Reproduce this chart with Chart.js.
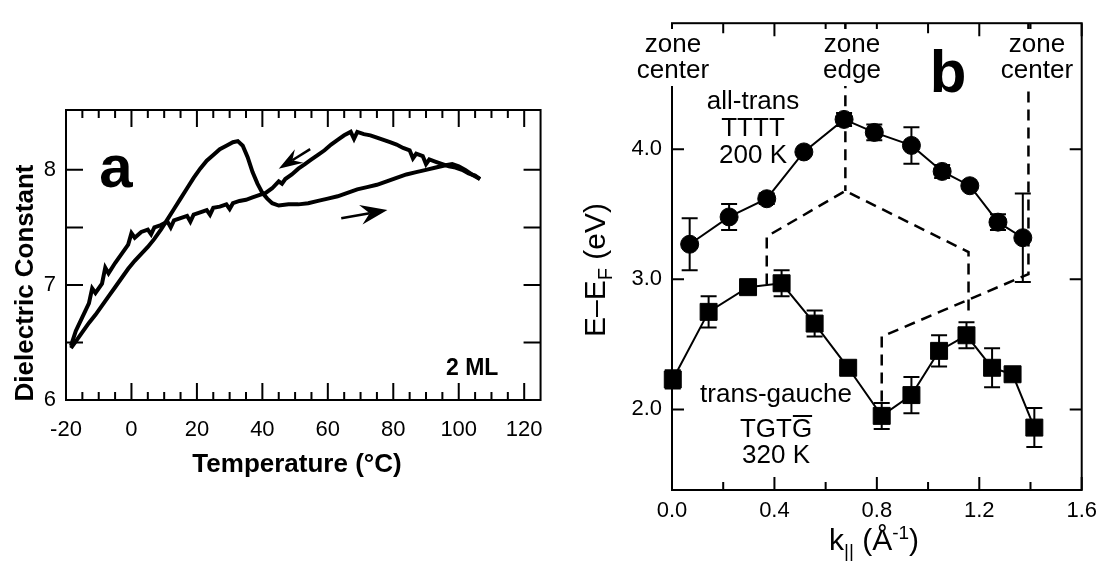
<!DOCTYPE html>
<html>
<head>
<meta charset="utf-8">
<script src="https://cdn.jsdelivr.net/npm/chart.js@4.4.1/dist/chart.umd.min.js"></script>
<style>
  html, body { margin: 0; padding: 0; background: #fff; }
  body { width: 1105px; height: 563px; position: relative; overflow: hidden; }
  #chartA { position: absolute; left: 0; top: 0; }
  #chartB { position: absolute; left: 560px; top: 0; }
</style>
</head>
<body>
<canvas id="chartA" width="560" height="563"></canvas>
<canvas id="chartB" width="545" height="563"></canvas>
<script>
// ===== Panel a data: dielectric constant vs temperature (2 ML) =====
const heatT = [-18.5, -17, -15, -13, -11, -9, -7, -5, -3, -1, 1, 3, 5, 7, 9, 11, 13, 15, 17, 19,
  21, 23, 25, 27, 29, 31, 32.5, 34, 35.5, 37, 38.5, 40, 41.5, 43, 45, 48, 51, 54, 57, 60,
  63, 66, 69, 72, 75, 78, 81, 84, 87, 90, 93, 96, 98, 100, 102, 104, 106.5];
const heatE = [6.45, 6.51, 6.59, 6.67, 6.74, 6.82, 6.90, 6.98, 7.06, 7.14, 7.21, 7.27, 7.33, 7.40, 7.48, 7.57, 7.66, 7.75, 7.84, 7.93,
  8.01, 8.08, 8.13, 8.18, 8.21, 8.24, 8.25, 8.21, 8.11, 7.98, 7.88, 7.80, 7.75, 7.71, 7.69, 7.70, 7.70, 7.71, 7.73, 7.75,
  7.77, 7.80, 7.83, 7.85, 7.87, 7.90, 7.93, 7.96, 7.98, 8.00, 8.02, 8.04, 8.05, 8.03, 8.00, 7.96, 7.92];

const coolT = [106.5, 105, 103, 101, 99, 97, 95, 93, 91, 90, 89, 87, 86, 85, 83, 81, 79, 77, 75, 73,
  71, 69, 68, 67, 65, 63, 61, 59, 57, 55, 53, 51, 49, 47, 46, 45, 43, 41, 39, 37,
  35, 33, 31, 30, 29, 27, 25, 24, 23, 21, 19, 18, 17, 15, 13, 12, 11, 9, 7, 6,
  5, 3, 1, 0, -1, -3, -5, -7, -8, -9, -11, -12, -13, -15, -17, -18.5];
const coolE = [7.92, 7.95, 7.97, 8.00, 8.02, 8.03, 8.05, 8.07, 8.09, 8.05, 8.12, 8.14, 8.10, 8.17, 8.19, 8.22, 8.24, 8.26, 8.28, 8.30,
  8.31, 8.33, 8.27, 8.33, 8.30, 8.26, 8.22, 8.17, 8.13, 8.09, 8.05, 8.01, 7.96, 7.92, 7.88, 7.90, 7.84, 7.80, 7.78, 7.76,
  7.74, 7.73, 7.71, 7.66, 7.70, 7.68, 7.67, 7.61, 7.65, 7.63, 7.61, 7.55, 7.60, 7.58, 7.56, 7.50, 7.55, 7.52, 7.50, 7.44,
  7.48, 7.46, 7.41, 7.45, 7.35, 7.27, 7.19, 7.10, 7.15, 7.01, 6.93, 6.97, 6.84, 6.72, 6.60, 6.47];

const tempLabels = [-20, 0, 20, 40, 60, 80, 100, 120];
const tempMinor = [-15, -10, -5, 5, 10, 15, 25, 30, 35, 45, 50, 55, 65, 70, 75, 85, 90, 95, 105, 110, 115];
const dielLabels = [6, 7, 8];
const dielTicks = [6.5, 7, 7.5, 8];

// ===== Panel b data: E - E_F vs k =====
const transK = [0.069, 0.223, 0.37, 0.515, 0.672, 0.79, 0.935, 1.055, 1.163, 1.273, 1.37];
const transE = [3.27, 3.48, 3.62, 3.98, 4.23, 4.13, 4.03, 3.83, 3.72, 3.44, 3.32];
const transErr = [0.20, 0.10, 0.04, 0.02, 0.05, 0.06, 0.14, 0.05, 0.02, 0.06, 0.34];

const gaucheK = [0.003, 0.143, 0.297, 0.428, 0.557, 0.688, 0.819, 0.935, 1.043, 1.15, 1.25, 1.33, 1.415];
const gaucheE = [2.23, 2.75, 2.94, 2.97, 2.66, 2.32, 1.95, 2.11, 2.45, 2.57, 2.32, 2.27, 1.86];
const gaucheErr = [0.07, 0.12, 0.02, 0.10, 0.10, 0.03, 0.10, 0.14, 0.12, 0.10, 0.15, 0, 0.15];

// dashed guide lines
const edgeK = [0.677, 0.677];
const edgeE = [4.97, 3.68];
const dashUpK = [0.37, 0.37, 0.677, 1.158, 1.158];
const dashUpE = [2.96, 3.33, 3.68, 3.21, 2.72];
const dashLowK = [0.819, 0.819, 1.392, 1.392];
const dashLowE = [2.06, 2.56, 3.04, 4.97];

const kLabels = [0, 0.4, 0.8, 1.2, 1.6];
const kMinor = [0.2, 0.6, 1.0, 1.4];
const eLabels = [2, 3, 4];

const FONT = '"Liberation Sans", Arial, Helvetica, sans-serif';

function pts(xs, ys) {
  return xs.map((x, i) => ({ x: x, y: ys[i] }));
}

// ===== drawing helpers =====
function tickX(ctx, scale, area, values, lenBottom, lenTop) {
  values.forEach(v => {
    const px = scale.getPixelForValue(v);
    ctx.beginPath();
    ctx.moveTo(px, area.bottom); ctx.lineTo(px, area.bottom - lenBottom);
    ctx.moveTo(px, area.top); ctx.lineTo(px, area.top + lenTop);
    ctx.stroke();
  });
}

function tickY(ctx, scale, area, values, len) {
  values.forEach(v => {
    const py = scale.getPixelForValue(v);
    ctx.beginPath();
    ctx.moveTo(area.left, py); ctx.lineTo(area.left + len, py);
    ctx.moveTo(area.right, py); ctx.lineTo(area.right - len, py);
    ctx.stroke();
  });
}

function drawArrow(ctx, x0, y0, x1, y1, headLen, halfW, notch) {
  const ang = Math.atan2(y1 - y0, x1 - x0);
  const c = Math.cos(ang), s = Math.sin(ang);
  ctx.beginPath();
  ctx.moveTo(x0, y0);
  ctx.lineTo(x1 - c * notch, y1 - s * notch);
  ctx.stroke();
  ctx.beginPath();
  ctx.moveTo(x1, y1);
  ctx.lineTo(x1 - c * headLen - s * halfW, y1 - s * headLen + c * halfW);
  ctx.lineTo(x1 - c * notch, y1 - s * notch);
  ctx.lineTo(x1 - c * headLen + s * halfW, y1 - s * headLen - c * halfW);
  ctx.closePath();
  ctx.fill();
}

// text made of pieces (for sub/superscripts), centred on x
function richText(ctx, parts, x, y) {
  let total = 0;
  parts.forEach(p => { ctx.font = p.font; total += ctx.measureText(p.t).width; });
  let cx = x - total / 2;
  ctx.textAlign = "left";
  ctx.textBaseline = "alphabetic";
  parts.forEach(p => {
    ctx.font = p.font;
    ctx.fillText(p.t, cx, y + (p.dy || 0));
    cx += ctx.measureText(p.t).width;
  });
}

function label(ctx, s, x, y, font) {
  ctx.font = font;
  ctx.textAlign = "center";
  ctx.textBaseline = "alphabetic";
  ctx.fillText(s, x, y);
}

// ===== Panel a =====
const panelAPlugin = {
  id: "panelA",
  afterDatasetsDraw(chart) {
    const ctx = chart.ctx;
    const area = chart.chartArea;
    const xs = chart.scales.x, ys = chart.scales.y;
    ctx.save();
    ctx.strokeStyle = "#000";
    ctx.fillStyle = "#000";
    ctx.lineWidth = 2;
    ctx.strokeRect(area.left, area.top, area.right - area.left, area.bottom - area.top);
    tickX(ctx, xs, area, tempLabels, 17, 17);
    tickX(ctx, xs, area, tempMinor, 8, 8);
    tickY(ctx, ys, area, dielTicks, 17);

    // arrows (cooling upper branch, heating lower branch)
    ctx.lineWidth = 2.5;
    drawArrow(ctx, xs.getPixelForValue(54.6), ys.getPixelForValue(8.18),
      xs.getPixelForValue(45.0), ys.getPixelForValue(8.01), 24, 8, 16);
    drawArrow(ctx, xs.getPixelForValue(64.1), ys.getPixelForValue(7.58),
      xs.getPixelForValue(78.2), ys.getPixelForValue(7.65), 27, 10, 18);

    label(ctx, "a", 116, 187, "bold 60px " + FONT);
    ctx.font = "bold 23px " + FONT;
    ctx.textAlign = "left";
    ctx.fillText("2 ML", 446, 375);

    label(ctx, "Temperature (°C)", 297, 472, "bold 26px " + FONT);
    ctx.translate(33, 283);
    ctx.rotate(-Math.PI / 2);
    label(ctx, "Dielectric Constant", 0, 0, "bold 26px " + FONT);
    ctx.restore();
  }
};

new Chart(document.getElementById("chartA"), {
  type: "scatter",
  data: {
    datasets: [
      { data: pts(heatT, heatE), showLine: true, borderColor: "#000", borderWidth: 4, pointRadius: 0, tension: 0 },
      { data: pts(coolT, coolE), showLine: true, borderColor: "#000", borderWidth: 4, pointRadius: 0, tension: 0 }
    ]
  },
  options: {
    responsive: false,
    animation: false,
    events: [],
    layout: { padding: { top: 110, right: 13, left: 0, bottom: 0 } },
    plugins: { legend: { display: false }, tooltip: { enabled: false } },
    scales: {
      x: {
        type: "linear", min: -20, max: 125,
        afterFit: s => { s.height = 163; },
        afterBuildTicks: s => { s.ticks = tempLabels.map(v => ({ value: v })); },
        grid: { display: false, drawTicks: false },
        border: { display: false },
        ticks: { padding: 17, color: "#000", font: { family: FONT, size: 22 }, maxRotation: 0, autoSkip: false,
          callback: v => String(v) }
      },
      y: {
        type: "linear", min: 6, max: 8.52,
        afterFit: s => { s.width = 66; },
        afterBuildTicks: s => { s.ticks = dielLabels.map(v => ({ value: v })); },
        grid: { display: false, drawTicks: false },
        border: { display: false },
        ticks: { padding: 10, color: "#000", font: { family: FONT, size: 22 }, callback: v => String(v) }
      }
    }
  },
  plugins: [panelAPlugin]
});

// ===== Panel b =====
function errBars(chart, dsIndex, err) {
  const ctx = chart.ctx;
  const ys = chart.scales.y;
  const meta = chart.getDatasetMeta(dsIndex);
  const data = chart.data.datasets[dsIndex].data;
  meta.data.forEach((el, i) => {
    const e = err[i];
    if (!e) return;
    const yTop = ys.getPixelForValue(data[i].y + e);
    const yBot = ys.getPixelForValue(data[i].y - e);
    ctx.beginPath();
    ctx.moveTo(el.x, yTop); ctx.lineTo(el.x, yBot);
    ctx.moveTo(el.x - 8, yTop); ctx.lineTo(el.x + 8, yTop);
    ctx.moveTo(el.x - 8, yBot); ctx.lineTo(el.x + 8, yBot);
    ctx.stroke();
  });
}

function whiteLabel(ctx, lines, x, y0, box) {
  ctx.fillStyle = "#fff";
  ctx.fillRect(box[0], box[1], box[2], box[3]);
  ctx.fillStyle = "#000";
  lines.forEach((s, i) => label(ctx, s, x, y0 + i * 26, "26px " + FONT));
}

const panelBPlugin = {
  id: "panelB",
  afterDatasetsDraw(chart) {
    const ctx = chart.ctx;
    const area = chart.chartArea;
    const xs = chart.scales.x, ys = chart.scales.y;
    ctx.save();
    ctx.strokeStyle = "#000";
    ctx.fillStyle = "#000";
    ctx.lineWidth = 2;
    errBars(chart, 3, transErr);
    errBars(chart, 4, gaucheErr);

    ctx.strokeRect(area.left, area.top, area.right - area.left, area.bottom - area.top);
    tickX(ctx, xs, area, kLabels, 13, 13);
    tickX(ctx, xs, area, kMinor, 8, 10);
    tickY(ctx, ys, area, eLabels, 12);

    // zone labels sit on white boxes over the frame / dashed lines
    whiteLabel(ctx, ["zone", "center"], 113, 52, [80, 29, 66, 57]);
    whiteLabel(ctx, ["zone", "edge"], 292, 52, [262, 29, 60, 57]);
    whiteLabel(ctx, ["zone", "center"], 477, 52, [443, 29, 67, 57]);

    const f26 = "26px " + FONT;
    label(ctx, "all-trans", 193, 109, f26);
    label(ctx, "TTTT", 193, 136, f26);
    label(ctx, "200 K", 193, 163, f26);
    label(ctx, "trans-gauche", 216, 402, f26);
    label(ctx, "TGTG", 216, 437, f26);
    label(ctx, "320 K", 216, 463, f26);
    // bar over the last G
    ctx.font = f26;
    const wAll = ctx.measureText("TGTG").width;
    const wHead = ctx.measureText("TGT").width;
    const gx = 216 - wAll / 2 + wHead;
    ctx.beginPath();
    ctx.moveTo(gx + 1, 416); ctx.lineTo(216 + wAll / 2, 416);
    ctx.stroke();

    label(ctx, "b", 388, 92, "bold 60px " + FONT);

    // axis titles
    richText(ctx, [
      { t: "k", font: "30px " + FONT },
      { t: "||", font: "19px " + FONT, dy: 7 },
      { t: " (Å", font: "30px " + FONT },
      { t: "-1", font: "19px " + FONT, dy: -11 },
      { t: ")", font: "30px " + FONT }
    ], 314, 550);
    ctx.translate(45, 270);
    ctx.rotate(-Math.PI / 2);
    richText(ctx, [
      { t: "E–E", font: "30px " + FONT },
      { t: "F", font: "20px " + FONT, dy: 7 },
      { t: " (eV)", font: "30px " + FONT }
    ], 0, 0);
    ctx.restore();
  }
};

const solid = { showLine: true, borderColor: "#000", backgroundColor: "#000", borderWidth: 2, tension: 0, clip: false,
  pointBackgroundColor: "#000", pointBorderColor: "#000", pointBorderWidth: 1 };
const dashed = { showLine: true, borderColor: "#000", borderWidth: 2.5, borderDash: [11, 7], pointRadius: 0, tension: 0, clip: false };

new Chart(document.getElementById("chartB"), {
  type: "scatter",
  data: {
    datasets: [
      Object.assign({ data: pts(edgeK, edgeE) }, dashed),
      Object.assign({ data: pts(dashUpK, dashUpE) }, dashed),
      Object.assign({ data: pts(dashLowK, dashLowE) }, dashed),
      Object.assign({ data: pts(transK, transE), pointStyle: "circle", pointRadius: 9 }, solid),
      Object.assign({ data: pts(gaucheK, gaucheE), pointStyle: "rect", pointRadius: 12 }, solid)
    ]
  },
  options: {
    responsive: false,
    animation: false,
    events: [],
    layout: { padding: { top: 15, right: 17, left: 0, bottom: 0 } },
    plugins: { legend: { display: false }, tooltip: { enabled: false } },
    scales: {
      x: {
        type: "linear", min: 0, max: 1.6,
        afterFit: s => { s.height = 73; },
        afterBuildTicks: s => { s.ticks = kLabels.map(v => ({ value: v })); },
        grid: { display: false, drawTicks: false },
        border: { display: false },
        ticks: { padding: 8, color: "#000", font: { family: FONT, size: 22 }, maxRotation: 0, autoSkip: false,
          callback: v => Number(v).toFixed(1) }
      },
      y: {
        type: "linear", min: 1.38, max: 4.97,
        afterFit: s => { s.width = 112; },
        afterBuildTicks: s => { s.ticks = eLabels.map(v => ({ value: v })); },
        grid: { display: false, drawTicks: false },
        border: { display: false },
        ticks: { padding: 10, color: "#000", font: { family: FONT, size: 22 }, callback: v => Number(v).toFixed(1) }
      }
    }
  },
  plugins: [panelBPlugin]
});
</script>
</body>
</html>
